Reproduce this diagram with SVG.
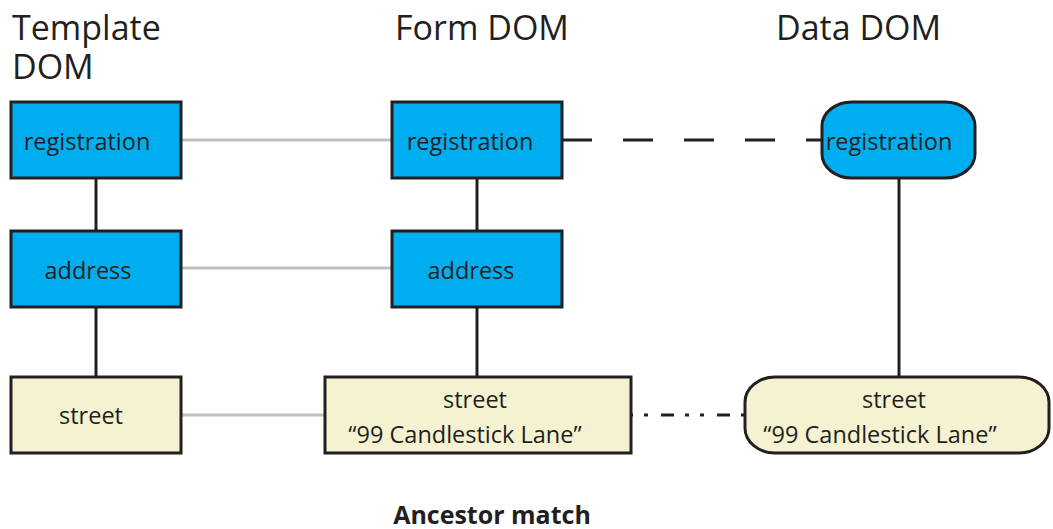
<svg xmlns="http://www.w3.org/2000/svg" width="1053" height="529" viewBox="0 0 1053 529">
<style>
.t{font-family:"Open Sans","Liberation Sans",sans-serif;fill:#231f20}
.title{font-size:34px}
.lbl{font-size:23.5px}
.blue{fill:#00aeef;stroke:#231f20;stroke-width:3}
.yel{fill:#f5f2d1;stroke:#231f20;stroke-width:3}
.tree{stroke:#231f20;stroke-width:3;fill:none}
.map{stroke:#bdc1c5;stroke-width:3;fill:none}
</style>
<rect width="1053" height="529" fill="#fff"/>
<text class="t title" x="12" y="40">Template<tspan x="12" y="79">DOM</tspan></text>
<text class="t title" x="395" y="40">Form DOM</text>
<text class="t title" x="776" y="40">Data DOM</text>
<g id="connectors">
<line class="tree" x1="96" y1="178" x2="96" y2="231"/>
<line class="tree" x1="96" y1="307" x2="96" y2="377"/>
<line class="tree" x1="477" y1="178" x2="477" y2="231"/>
<line class="tree" x1="477" y1="307" x2="477" y2="377"/>
<line class="tree" x1="899" y1="179" x2="899" y2="377"/>
<line class="map" x1="181" y1="140" x2="392" y2="140"/>
<line class="map" x1="181" y1="268" x2="392" y2="268"/>
<line class="map" x1="181" y1="415" x2="325" y2="415"/>
<line class="tree" x1="562" y1="140" x2="822" y2="140" stroke-dasharray="30 31"/>
<line class="tree" x1="631" y1="415" x2="745" y2="415" stroke-dasharray="13 11 4 11 4 13" stroke-dashoffset="26"/>
</g>
<g id="tpl-registration"><rect class="blue" x="11" y="102" width="170" height="76"/><text class="t lbl" x="87" y="150" text-anchor="middle">registration</text></g>
<g id="tpl-address"><rect class="blue" x="11" y="231" width="170" height="76"/><text class="t lbl" x="88" y="279" text-anchor="middle">address</text></g>
<g id="tpl-street"><rect class="yel" x="11" y="377" width="170" height="76"/><text class="t lbl" x="91" y="424" text-anchor="middle">street</text></g>
<g id="form-registration"><rect class="blue" x="392" y="102" width="170" height="76"/><text class="t lbl" x="470" y="150" text-anchor="middle">registration</text></g>
<g id="form-address"><rect class="blue" x="392" y="231" width="170" height="76"/><text class="t lbl" x="471" y="279" text-anchor="middle">address</text></g>
<g id="form-street"><rect class="yel" x="325" y="377" width="306" height="76"/><text class="t lbl" x="475" y="408" text-anchor="middle">street</text><text class="t lbl" x="465" y="443" text-anchor="middle">“99 Candlestick Lane”</text></g>
<g id="data-registration"><rect class="blue" x="822" y="102" width="153" height="76" rx="30" ry="24"/><text class="t lbl" x="889" y="150" text-anchor="middle">registration</text></g>
<g id="data-street"><rect class="yel" x="745" y="377" width="304" height="76" rx="30" ry="25"/><text class="t lbl" x="894" y="408" text-anchor="middle">street</text><text class="t lbl" x="880" y="443" text-anchor="middle">“99 Candlestick Lane”</text></g>
<text class="t" x="492" y="524" text-anchor="middle" font-size="25" font-weight="bold">Ancestor match</text>
</svg>
